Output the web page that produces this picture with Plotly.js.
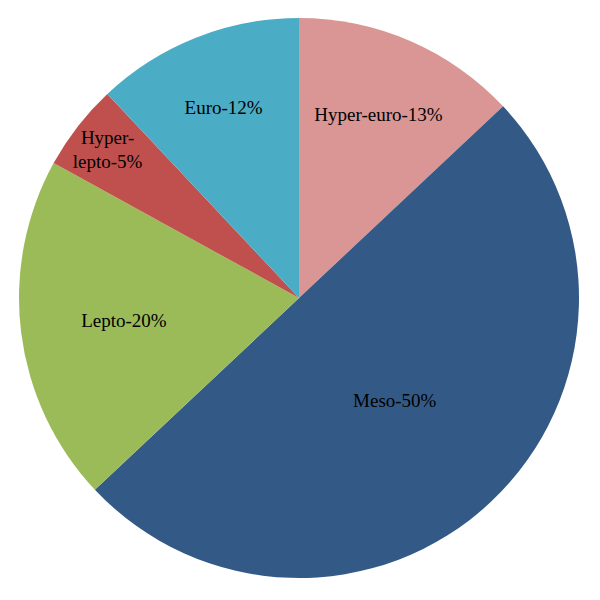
<!DOCTYPE html>
<html>
<head>
<meta charset="utf-8">
<script src="https://cdn.plot.ly/plotly-3.0.1.min.js"></script>
<style>html,body{margin:0;padding:0;background:#fff;}#chart{width:600px;height:600px;}</style>
</head>
<body>
<div id="chart"></div>
<script>
const categories = ["Hyper-euro", "Meso", "Lepto", "Hyper-lepto", "Euro"];
const values = [13, 50, 20, 5, 12];
const labelTexts = ["Hyper-euro-13%", "Meso-50%", "Lepto-20%", "Hyper-<br>lepto-5%", "Euro-12%"];
const colors = ["#D99694", "#335A87", "#9BBB59", "#C0504D", "#4BACC6"];

Plotly.newPlot("chart", [{
  type: "pie",
  labels: categories,
  values: values,
  text: labelTexts,
  textinfo: "text",
  textposition: "inside",
  insidetextorientation: "horizontal",
  sort: false,
  direction: "clockwise",
  rotation: 0,
  marker: {colors: colors, line: {width: 0}},
  textfont: {family: "Liberation Serif, serif", size: 19, color: "#000"},
  hoverinfo: "none"
}], {
  width: 600, height: 600,
  margin: {l: 19, r: 21, t: 18, b: 22},
  showlegend: false,
  paper_bgcolor: "#fff",
  uniformtext: {mode: "show", minsize: 19}
}, {displayModeBar: false, staticPlot: true});
</script>
</body>
</html>
